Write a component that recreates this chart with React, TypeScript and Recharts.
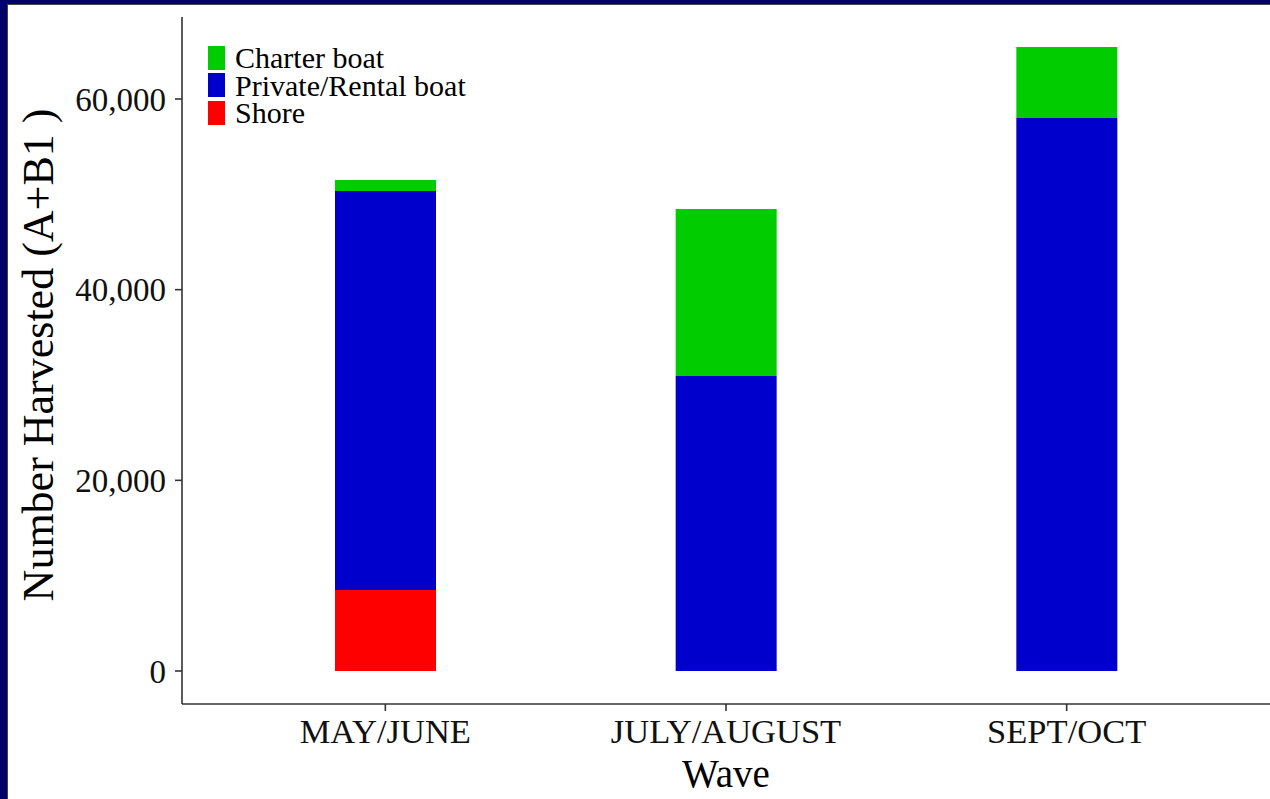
import { BarChart, Bar, XAxis, YAxis, Label } from "recharts"

const WAVES = ["MAY/JUNE", "JULY/AUGUST", "SEPT/OCT"]
const SHORE = [8500, 0, 0]
const PRIVATE_RENTAL = [41850, 30950, 58000]
const CHARTER = [1150, 17500, 7450]
const Y_TICKS = [0, 20000, 40000, 60000]

const SERIES = [
  { key: "shore", name: "Shore", color: "#ff0000", values: SHORE },
  { key: "private", name: "Private/Rental boat", color: "#0000cc", values: PRIVATE_RENTAL },
  { key: "charter", name: "Charter boat", color: "#00cc00", values: CHARTER },
]

const data = WAVES.map((wave, i) => {
  const row: Record<string, string | number> = { wave }
  SERIES.forEach((s) => {
    row[s.key] = s.values[i]
  })
  return row
})

const FONT = "'Liberation Serif', 'Times New Roman', serif"

function LegendBox() {
  // ggplot lists the stack top-down
  const items = [...SERIES].reverse()
  return (
    <div style={{ position: "absolute", left: 208, top: 44, fontFamily: FONT }}>
      {items.map((s) => (
        <div key={s.key} style={{ display: "flex", alignItems: "center", height: 27.5 }}>
          <div style={{ width: 17, height: 24, background: s.color, marginRight: 10 }} />
          <span style={{ fontSize: 30, color: "#000", lineHeight: "27px", whiteSpace: "nowrap" }}>{s.name}</span>
        </div>
      ))}
    </div>
  )
}

export default function App() {
  return (
    <div style={{ position: "absolute", left: 0, top: 0, width: 1270, height: 799, background: "#000066", overflow: "hidden" }}>
      <div style={{ position: "absolute", left: 7, top: 4, right: 0, bottom: 0, background: "#444" }} />
      <div style={{ position: "absolute", left: 8, top: 5, right: 0, bottom: 0, background: "#fff" }} />
      <div style={{ position: "absolute", left: 0, top: 0 }}>
        <BarChart width={1270} height={799} data={data} margin={{ top: 17, right: 0, left: 0, bottom: 0 }}>
          <XAxis
            dataKey="wave"
            height={95}
            padding={{ left: 33, right: 33 }}
            tickLine={{ stroke: "#333", strokeWidth: 1.6 }}
            axisLine={{ stroke: "#333", strokeWidth: 1.6 }}
            tickSize={7}
            tickMargin={8}
            tick={{ fill: "#111", fontSize: 34.5, fontFamily: FONT }}
          >
            <Label
              content={({ viewBox }: any) => (
                <text
                  x={viewBox.x + viewBox.width / 2}
                  y={viewBox.y + 83}
                  textAnchor="middle"
                  fill="#000"
                  fontSize={39}
                  fontFamily={FONT}
                >
                  Wave
                </text>
              )}
            />
          </XAxis>
          <YAxis
            width={182}
            type="number"
            domain={[-3462, 68601]}
            allowDataOverflow
            ticks={Y_TICKS}
            tickFormatter={(v: number) => v.toLocaleString("en-US")}
            tickLine={{ stroke: "#333", strokeWidth: 1.6 }}
            axisLine={{ stroke: "#333", strokeWidth: 1.6 }}
            tickSize={7}
            tickMargin={9}
            tick={{ fill: "#111", fontSize: 33, fontFamily: FONT }}
          >
            <Label
              content={() => (
                <text
                  x={53}
                  y={355}
                  transform="rotate(-90 53 355)"
                  textAnchor="middle"
                  fill="#000"
                  fontSize={44}
                  fontFamily={FONT}
                >
                  Number Harvested (A+B1 )
                </text>
              )}
            />
          </YAxis>
          {SERIES.map((s) => (
            <Bar key={s.key} dataKey={s.key} name={s.name} stackId="a" fill={s.color} barSize={101} isAnimationActive={false} />
          ))}
        </BarChart>
      </div>
      <LegendBox />
    </div>
  )
}
